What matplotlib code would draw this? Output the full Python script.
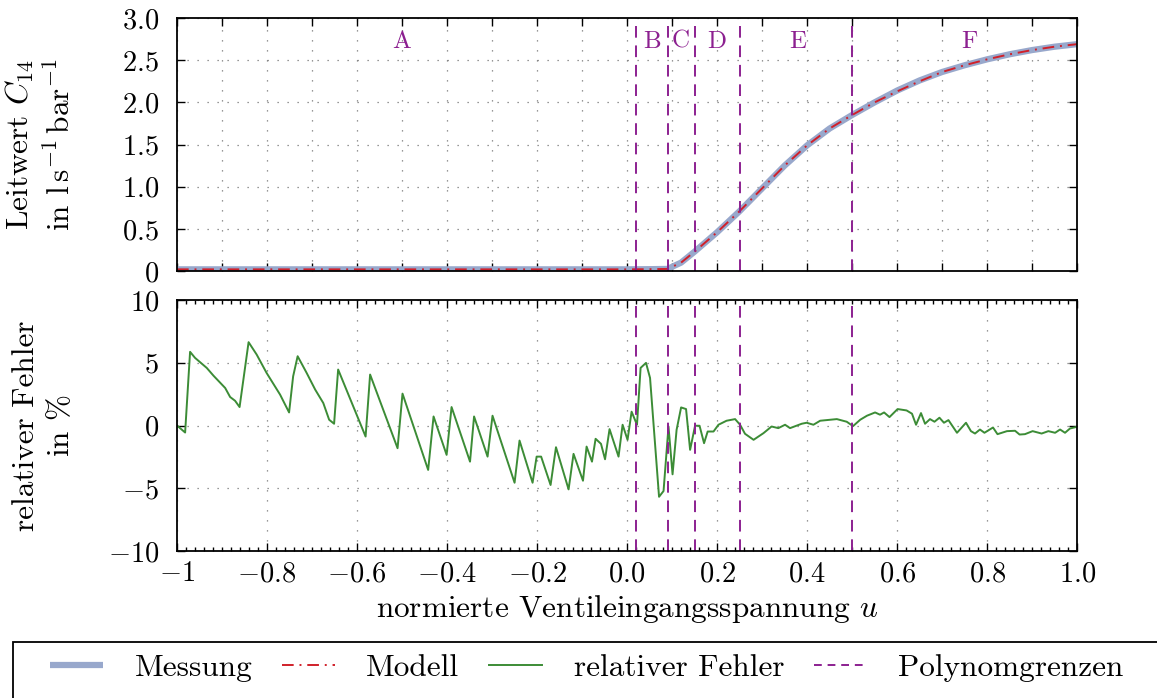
import numpy as np
import matplotlib
matplotlib.use("Agg")
import matplotlib.pyplot as plt
from matplotlib.ticker import MultipleLocator, FixedLocator, FixedFormatter
from matplotlib.patches import Rectangle
from matplotlib.lines import Line2D

plt.rcParams['font.family'] = 'serif'
plt.rcParams['font.serif'] = ['cmr10']
plt.rcParams['mathtext.fontset'] = 'cm'
plt.rcParams['axes.formatter.use_mathtext'] = True

# Leitwert (Messung / Modell)
u_mess = [-1.0, -0.8, -0.6, -0.4, -0.2, 0.0, 0.05, 0.09, 0.12, 0.15, 0.2, 0.25,
          0.3, 0.35, 0.4, 0.45, 0.5, 0.55, 0.6, 0.65, 0.7, 0.75, 0.8, 0.85,
          0.9, 0.95, 1.0]
C_mess = [0.02, 0.02, 0.02, 0.02, 0.02, 0.02, 0.022, 0.025, 0.1, 0.23, 0.46,
          0.71, 0.98, 1.25, 1.49, 1.69, 1.85, 2.0, 2.14, 2.26, 2.36, 2.44, 2.51,
          2.57, 2.62, 2.66, 2.69]
C_modell = [0.02, 0.02, 0.02, 0.02, 0.02, 0.02, 0.022, 0.025, 0.1, 0.23, 0.46,
            0.71, 0.98, 1.25, 1.49, 1.69, 1.85, 2.0, 2.13, 2.25, 2.36, 2.44, 2.51,
            2.57, 2.62, 2.66, 2.69]

# relativer Fehler in %
u_err = [-1.0, -0.982, -0.971, -0.96, -0.934, -0.919, -0.893, -0.882, -0.871,
         -0.861, -0.841, -0.823, -0.801, -0.771, -0.751, -0.742, -0.732, -0.712,
         -0.693, -0.675, -0.662, -0.651, -0.642, -0.581, -0.571, -0.51, -0.499,
         -0.442, -0.43, -0.401, -0.39, -0.349, -0.34, -0.31, -0.299, -0.25,
         -0.239, -0.21, -0.201, -0.191, -0.17, -0.158, -0.13, -0.119, -0.098,
         -0.09, -0.078, -0.07, -0.058, -0.049, -0.039, -0.019, -0.01, 0.001,
         0.01, 0.022, 0.03, 0.042, 0.051, 0.071, 0.081, 0.092, 0.101, 0.11,
         0.12, 0.131, 0.14, 0.151, 0.161, 0.171, 0.179, 0.192, 0.203, 0.221,
         0.24, 0.251, 0.262, 0.281, 0.303, 0.321, 0.336, 0.351, 0.362, 0.388,
         0.399, 0.414, 0.429, 0.466, 0.488, 0.502, 0.518, 0.533, 0.551, 0.562,
         0.571, 0.583, 0.601, 0.621, 0.633, 0.642, 0.653, 0.662, 0.673, 0.683,
         0.694, 0.704, 0.714, 0.733, 0.753, 0.764, 0.773, 0.784, 0.794, 0.813,
         0.823, 0.844, 0.862, 0.872, 0.884, 0.901, 0.921, 0.936, 0.951, 0.962,
         0.973, 0.984, 1.0]
e_rel = [0.0, -0.56, 5.87, 5.39, 4.59, 3.97, 2.99, 2.27, 1.97, 1.47, 6.64, 5.65,
         4.19, 2.46, 1.04, 3.92, 5.52, 4.19, 2.86, 1.79, 0.46, 0.14, 4.46, -0.88,
         4.06, -1.81, 2.54, -3.54, 0.72, -2.34, 1.47, -2.88, 0.72, -2.48, 0.78,
         -4.56, -1.2, -4.56, -2.48, -2.48, -4.74, -1.73, -5.09, -2.26, -4.4,
         -1.68, -2.88, -1.06, -1.46, -2.69, -0.29, -2.48, 0.06, -1.14, 1.1, 0.06,
         4.59, 4.99, 3.79, -5.68, -5.22, -0.08, -3.89, -0.34, 1.44, 1.31, -1.94,
         -0.02, -0.02, -1.41, -0.48, -0.48, 0.06, 0.38, 0.51, 0.06, -0.66, -1.14,
         -0.61, -0.08, -0.21, 0.06, -0.21, 0.14, 0.22, 0.06, 0.38, 0.51, 0.3,
         -0.05, 0.46, 0.78, 1.04, 0.86, 1.04, 0.67, 1.31, 1.2, 0.94, 0.06, 0.99,
         0.14, 0.51, 0.3, 0.62, 0.22, 0.43, -0.58, 0.22, -0.45, -0.64, -0.32,
         -0.58, -0.16, -0.69, -0.45, -0.42, -0.72, -0.69, -0.45, -0.64, -0.45,
         -0.58, -0.32, -0.58, -0.24, -0.1]

grenzen = [0.02, 0.09, 0.15, 0.25, 0.5]
bereich_namen = ['A', 'B', 'C', 'D', 'E', 'F']
bereich_pos = [-0.5, 0.055, 0.12, 0.2, 0.38, 0.76]

x_ticks = [-1, -0.8, -0.6, -0.4, -0.2, 0, 0.2, 0.4, 0.6, 0.8, 1.0]
x_labels = ['$-1$', '$-0.8$', '$-0.6$', '$-0.4$', '$-0.2$', '$0.0$', '$0.2$',
            '$0.4$', '$0.6$', '$0.8$', '$1.0$']
y1_ticks = [0, 0.5, 1.0, 1.5, 2.0, 2.5, 3.0]
y1_labels = ['$0$', '$0.5$', '$1.0$', '$1.5$', '$2.0$', '$2.5$', '$3.0$']
y2_ticks = [-10, -5, 0, 5, 10]
y2_labels = ['$-10$', '$-5$', '$0$', '$5$', '$10$']

c_mess = '#98a8cc'
c_mod = '#d0202a'
c_err = '#3c8c36'
c_pol = '#8c2090'
fs_tick = 20.5
fs = 22.5

fig = plt.figure(figsize=(11.57, 6.98), dpi=100)
ax1 = fig.add_axes([0.153, 0.6117, 0.778, 0.3625])
ax2 = fig.add_axes([0.153, 0.2106, 0.778, 0.3596])

for ax in (ax1, ax2):
    for s in ax.spines.values():
        s.set_linewidth(1.3)
    ax.tick_params(which='both', direction='in', top=True, right=True,
                   labelsize=fs_tick, width=1.0)
    ax.tick_params(which='major', length=6)
    ax.tick_params(which='minor', length=3)
    ax.tick_params(axis='y', pad=13)
    ax.grid(True, which='major', linestyle=(0, (1, 7)), color='#777777', linewidth=0.9)
    ax.set_xlim(-1, 1)
    ax.set_axisbelow(True)

# oberes Diagramm
ax1.plot(u_mess, C_mess, color=c_mess, lw=4.5, solid_capstyle='butt')
ax1.plot(u_mess, C_modell, color=c_mod, lw=1.4, dashes=(6, 3, 1, 3))
for g in grenzen:
    ax1.axvline(g, color=c_pol, lw=1.4, dashes=(6, 4))
for name, p in zip(bereich_namen, bereich_pos):
    ax1.text(p, 2.72, name, color=c_pol, fontsize=18, ha='center', va='center')
ax1.set_ylim(0, 3.0)
ax1.xaxis.set_major_locator(MultipleLocator(0.1))
ax1.set_xticklabels([])
ax1.yaxis.set_major_locator(FixedLocator(y1_ticks))
ax1.yaxis.set_major_formatter(FixedFormatter(y1_labels))
ax1.set_ylabel('Leitwert $C_{14}$\nin $\\mathrm{l\\,s^{-1}\\,bar^{-1}}$', fontsize=fs,
               linespacing=1.3)
ax1.yaxis.set_label_coords(-0.113, 0.5)

# unteres Diagramm
ax2.plot(u_err, e_rel, color=c_err, lw=1.4)
for g in grenzen:
    ax2.axvline(g, color=c_pol, lw=1.4, dashes=(6, 4))
ax2.set_ylim(-10, 10)
ax2.xaxis.set_major_locator(FixedLocator(x_ticks))
ax2.xaxis.set_major_formatter(FixedFormatter(x_labels))
ax2.xaxis.set_minor_locator(MultipleLocator(0.02))
ax2.yaxis.set_major_locator(FixedLocator(y2_ticks))
ax2.yaxis.set_major_formatter(FixedFormatter(y2_labels))
ax2.tick_params(axis='x', pad=7)
ax2.set_xlabel('normierte Ventileingangsspannung $u$', fontsize=fs, labelpad=4)
ax2.set_ylabel('relativer Fehler\nin $\\%$', fontsize=fs, linespacing=1.3)
ax2.yaxis.set_label_coords(-0.113, 0.5)

# Legende unten, Rahmen separat
handles = [Line2D([], [], color=c_mess, lw=4.5, solid_capstyle='butt'),
           Line2D([], [], color=c_mod, lw=1.4, dashes=(6, 3, 1, 3)),
           Line2D([], [], color=c_err, lw=1.4),
           Line2D([], [], color=c_pol, lw=1.4, dashes=(4, 3))]
names = ['Messung', 'Modell', 'relativer Fehler', 'Polynomgrenzen']
fig.legend(handles, names, loc='center left', ncol=4, frameon=False,
           bbox_to_anchor=(50 / 1157, 1 - 668 / 698), fontsize=fs,
           handlelength=1.7, handletextpad=1.0, columnspacing=0.95,
           borderpad=0.0, borderaxespad=0.0)
fig.patches.append(Rectangle((13 / 1157, -0.05), 1.0, 0.05 + 56 / 698,
                             transform=fig.transFigure, fill=False,
                             edgecolor='black', linewidth=1.3))

fig.savefig('out.png', dpi=100)
